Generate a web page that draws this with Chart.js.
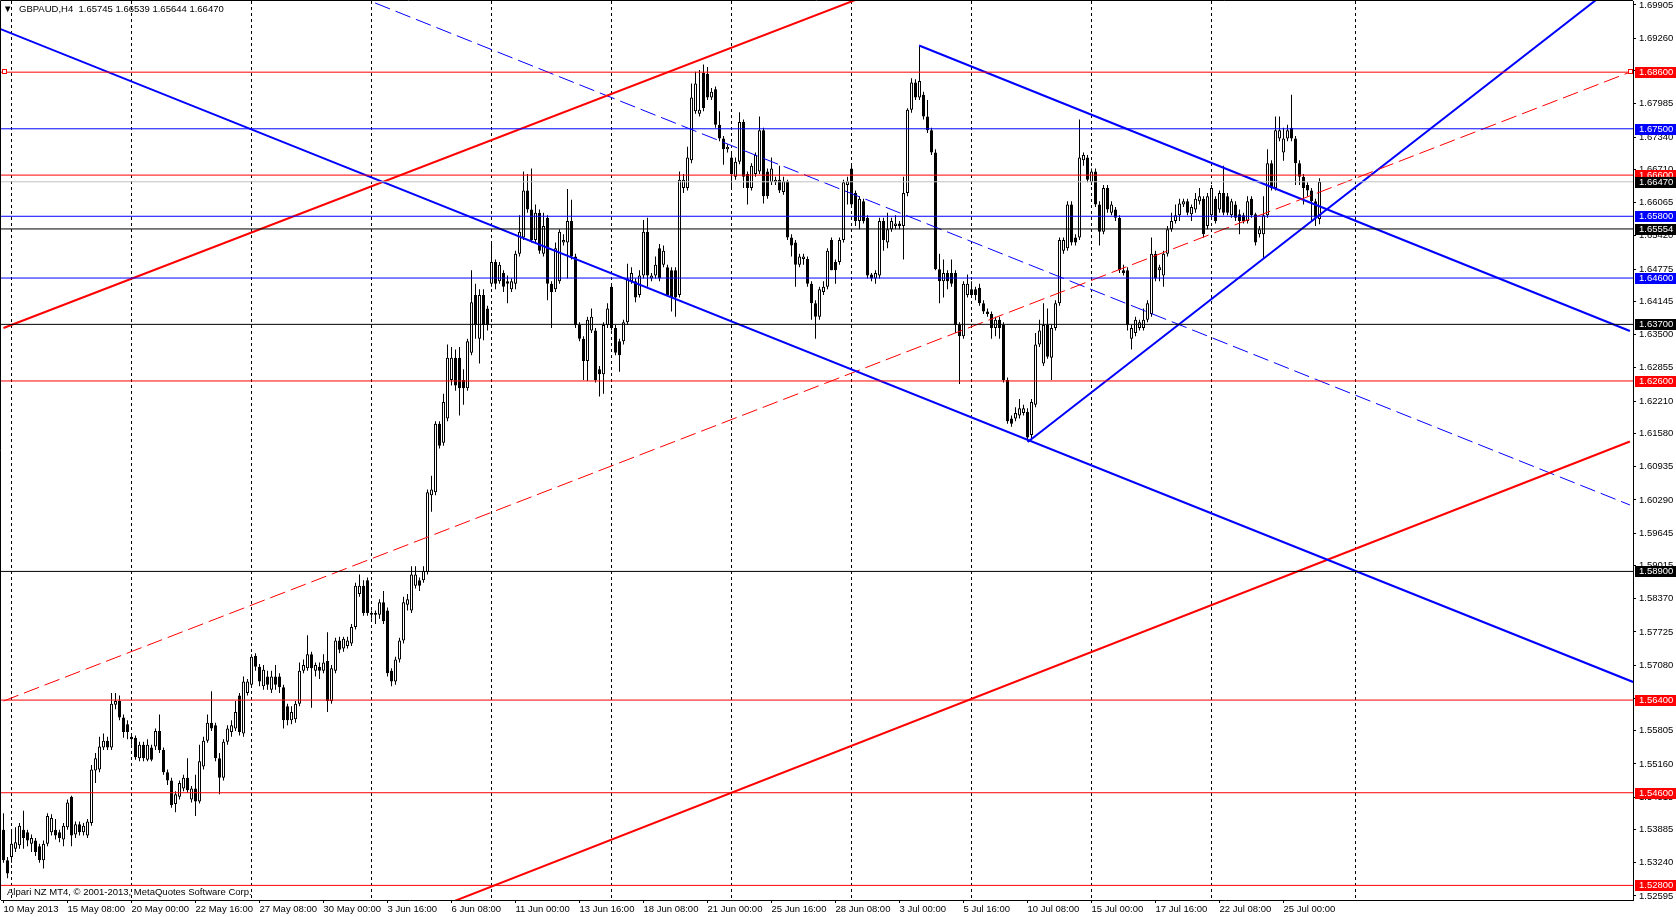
<!DOCTYPE html>
<html>
<head>
<meta charset="utf-8">
<script src="https://cdn.jsdelivr.net/npm/chart.js@4.4.1/dist/chart.umd.min.js"></script>
<style>
html,body{margin:0;padding:0;background:#fff;overflow:hidden}
#caja{position:relative;width:1676px;height:917px}
</style>
</head>
<body>
<div id="caja"><canvas id="grafica"></canvas></div>
<script>
var simbolo = "GBPAUD,H4";
var copyright = "Alpari NZ MT4, \u00a9 2001-2013, MetaQuotes Software Corp.";

// H4 bars, 10 May 2013 16:00 .. 26 Jul 2013 12:00
var opens = [
1.5388,1.5329,1.5335,1.5351,1.5358,1.5388,1.5383,1.5361,1.5367,1.5356,
1.5329,1.5361,1.5383,1.5388,1.5383,1.5369,1.5393,1.5452,1.5379,1.5399,
1.5383,1.5377,1.5401,1.5503,1.5505,1.5548,1.5561,1.5548,1.5631,1.5638,
1.5606,1.5593,1.5569,1.5567,1.5527,1.5553,1.5524,1.5548,1.5550,1.5580,
1.5543,1.5500,1.5484,1.5438,1.5452,1.5468,1.5489,1.5447,1.5468,1.5443,
1.5511,1.5561,1.5596,1.5591,1.5527,1.5489,1.5559,1.5578,1.5585,1.5649,
1.5575,1.5654,1.5670,1.5726,1.5705,1.5667,1.5686,1.5660,1.5686,1.5686,
1.5665,1.5628,1.5601,1.5603,1.5633,1.5697,1.5702,1.5729,1.5697,1.5705,
1.5697,1.5716,1.5638,1.5697,1.5756,1.5740,1.5745,1.5750,1.5782,1.5846,
1.5862,1.5873,1.5806,1.5809,1.5806,1.5830,1.5814,1.5697,1.5676,1.5719,
1.5756,1.5825,1.5814,1.5862,1.5873,1.5873,1.5889,1.6038,1.6044,1.6177,
1.6140,1.6187,1.6262,1.6305,1.6305,1.6262,1.6246,1.6315,1.6427,1.6342,
1.6427,1.6401,1.6449,1.6491,1.6454,1.6470,1.6454,1.6438,1.6449,1.6507,
1.6539,1.6630,1.6593,1.6534,1.6587,1.6507,1.6577,1.6449,1.6438,1.6454,
1.6529,1.6529,1.6571,1.6502,1.6369,1.6342,1.6299,1.6358,1.6358,1.6283,
1.6273,1.6369,1.6443,1.6363,1.6337,1.6337,1.6374,1.6454,1.6454,1.6427,
1.6465,1.6550,1.6459,1.6465,1.6518,1.6486,1.6481,1.6475,1.6475,1.6427,
1.6635,1.6635,1.6689,1.6784,1.6779,1.6859,1.6857,1.6811,1.6827,1.6758,
1.6731,1.6710,1.6694,1.6657,1.6686,1.6763,1.6662,1.6635,1.6662,1.6667,
1.6747,1.6667,1.6646,1.6646,1.6651,1.6627,1.6648,1.6539,1.6529,1.6486,
1.6497,1.6497,1.6449,1.6411,1.6385,1.6433,1.6443,1.6534,1.6491,1.6491,
1.6534,1.6641,1.6673,1.6625,1.6571,1.6609,1.6577,1.6467,1.6459,1.6465,
1.6571,1.6529,1.6555,1.6561,1.6566,1.6561,1.6625,1.6787,1.6840,1.6811,
1.6816,1.6774,1.6747,1.6704,1.6477,1.6454,1.6470,1.6470,1.6470,1.6369,
1.6347,1.6427,1.6438,1.6438,1.6441,1.6411,1.6395,1.6390,1.6363,1.6379,
1.6369,1.6262,1.6187,1.6187,1.6193,1.6198,1.6200,1.6155,1.6214,1.6331,
1.6294,1.6369,1.6305,1.6363,1.6411,1.6513,1.6518,1.6603,1.6539,1.6539,
1.6689,1.6694,1.6646,1.6667,1.6603,1.6550,1.6635,1.6587,1.6593,1.6577,
1.6475,1.6475,1.6342,1.6353,1.6363,1.6363,1.6379,1.6390,1.6507,1.6475,
1.6465,1.6507,1.6555,1.6571,1.6582,1.6603,1.6609,1.6584,1.6593,1.6609,
1.6614,1.6561,1.6582,1.6614,1.6593,1.6625,1.6619,1.6582,1.6603,1.6584,
1.6582,1.6571,1.6614,1.6584,1.6545,1.6545,1.6582,1.6683,1.6635,1.6731,
1.6704,1.6731,1.6752,1.6731,1.6683,1.6657,1.6641,1.6630,1.6609,1.65745
];
var highs = [
1.5420,1.5335,1.5388,1.5393,1.5401,1.5425,1.5388,1.5379,1.5372,1.5361,
1.5367,1.5420,1.5418,1.5409,1.5388,1.5401,1.5447,1.5454,1.5404,1.5404,
1.5401,1.5409,1.5514,1.5537,1.5569,1.5575,1.5569,1.5654,1.5654,1.5649,
1.5612,1.5601,1.5575,1.5571,1.5559,1.5559,1.5564,1.5553,1.5585,1.5612,
1.5548,1.5505,1.5489,1.5463,1.5484,1.5495,1.5527,1.5473,1.5495,1.5553,
1.5569,1.5612,1.5657,1.5596,1.5537,1.5564,1.5591,1.5601,1.5638,1.5654,
1.5686,1.5681,1.5729,1.5731,1.5710,1.5708,1.5697,1.5697,1.5708,1.5692,
1.5670,1.5633,1.5628,1.5638,1.5713,1.5719,1.5766,1.5734,1.5713,1.5713,
1.5729,1.5772,1.5708,1.5761,1.5763,1.5763,1.5763,1.5788,1.5868,1.5884,
1.5873,1.5878,1.5814,1.5814,1.5836,1.5852,1.5820,1.5702,1.5724,1.5761,
1.5841,1.5846,1.5900,1.5900,1.5878,1.5900,1.6049,1.6076,1.6182,1.6182,
1.6235,1.6331,1.6326,1.6321,1.6326,1.6283,1.6342,1.6475,1.6449,1.6438,
1.6438,1.6406,1.6529,1.6496,1.6491,1.6475,1.6465,1.6459,1.6513,1.6582,
1.6667,1.6662,1.6673,1.6603,1.6593,1.6587,1.6582,1.6454,1.6529,1.6555,
1.6545,1.6633,1.6612,1.6507,1.6374,1.6347,1.6385,1.6401,1.6363,1.6289,
1.6374,1.6411,1.6449,1.6369,1.6342,1.6379,1.6488,1.6481,1.6459,1.6475,
1.6573,1.6577,1.6470,1.6502,1.6526,1.6523,1.6486,1.6481,1.6481,1.6667,
1.6662,1.6715,1.6838,1.6861,1.6864,1.6875,1.6870,1.6829,1.6832,1.6784,
1.6736,1.6720,1.6704,1.6694,1.6782,1.6768,1.6667,1.6683,1.6704,1.6774,
1.6752,1.6673,1.6694,1.6657,1.6678,1.6657,1.6651,1.6545,1.6534,1.6507,
1.6507,1.6502,1.6454,1.6417,1.6443,1.6454,1.6518,1.6539,1.6496,1.6539,
1.6651,1.6657,1.6680,1.6630,1.6619,1.6614,1.6582,1.6470,1.6475,1.6577,
1.6577,1.6587,1.6577,1.6582,1.6571,1.6657,1.6790,1.6848,1.6846,1.6912,
1.6822,1.6806,1.6752,1.6710,1.6507,1.6496,1.6475,1.6496,1.6475,1.6374,
1.6454,1.6467,1.6454,1.6443,1.6449,1.6417,1.6401,1.6395,1.6385,1.6385,
1.6374,1.6267,1.6193,1.6209,1.6225,1.6214,1.6207,1.6225,1.6353,1.6379,
1.6411,1.6401,1.6369,1.6417,1.6539,1.6539,1.6609,1.6609,1.6545,1.6768,
1.6704,1.6699,1.6673,1.6673,1.6609,1.6641,1.6641,1.6609,1.6598,1.6582,
1.6486,1.6481,1.6369,1.6385,1.6379,1.6401,1.6417,1.6539,1.6513,1.6486,
1.6513,1.6561,1.6587,1.6603,1.6614,1.6614,1.6614,1.6603,1.6625,1.6635,
1.6619,1.6625,1.6641,1.6619,1.6630,1.6678,1.6625,1.6614,1.6609,1.6593,
1.6587,1.6619,1.6619,1.6587,1.6561,1.6619,1.6710,1.6689,1.6774,1.6774,
1.6752,1.6758,1.6816,1.6736,1.6689,1.6662,1.6646,1.6635,1.6614,1.66539
];
var lows = [
1.5324,1.5294,1.5324,1.5345,1.5351,1.5351,1.5356,1.5345,1.5337,1.5324,
1.5313,1.5356,1.5377,1.5369,1.5364,1.5356,1.5388,1.5356,1.5372,1.5377,
1.5377,1.5372,1.5396,1.5479,1.5500,1.5543,1.5543,1.5543,1.5622,1.5601,
1.5567,1.5564,1.5553,1.5524,1.5521,1.5521,1.5521,1.5521,1.5543,1.5537,
1.5495,1.5475,1.5431,1.5422,1.5447,1.5463,1.5460,1.5441,1.5415,1.5439,
1.5505,1.5557,1.5580,1.5521,1.5457,1.5484,1.5553,1.5569,1.5580,1.5571,
1.5569,1.5649,1.5665,1.5697,1.5667,1.5660,1.5660,1.5654,1.5660,1.5654,
1.5585,1.5591,1.5593,1.5596,1.5628,1.5692,1.5697,1.5625,1.5686,1.5681,
1.5692,1.5617,1.5633,1.5692,1.5731,1.5734,1.5740,1.5745,1.5777,1.5841,
1.5804,1.5804,1.5798,1.5788,1.5798,1.5788,1.5686,1.5667,1.5670,1.5713,
1.5750,1.5814,1.5809,1.5857,1.5852,1.5868,1.5884,1.6006,1.6038,1.6129,
1.6134,1.6182,1.6251,1.6241,1.6193,1.6214,1.6241,1.6310,1.6342,1.6294,
1.6339,1.6358,1.6443,1.6438,1.6449,1.6433,1.6411,1.6433,1.6438,1.6502,
1.6534,1.6587,1.6529,1.6529,1.6507,1.6502,1.6417,1.6363,1.6433,1.6449,
1.6523,1.6459,1.6496,1.6363,1.6337,1.6262,1.6260,1.6353,1.6257,1.6230,
1.6235,1.6363,1.6358,1.6310,1.6278,1.6331,1.6369,1.6449,1.6413,1.6422,
1.6459,1.6443,1.6454,1.6459,1.6454,1.6481,1.6427,1.6395,1.6385,1.6422,
1.6625,1.6630,1.6683,1.6779,1.6774,1.6784,1.6806,1.6806,1.6752,1.6726,
1.6680,1.6704,1.6635,1.6651,1.6681,1.6635,1.6603,1.6630,1.6657,1.6662,
1.6605,1.6614,1.6641,1.6641,1.6625,1.6622,1.6534,1.6502,1.6443,1.6481,
1.6486,1.6443,1.6379,1.6342,1.6379,1.6427,1.6438,1.6475,1.6449,1.6486,
1.6529,1.6603,1.6598,1.6561,1.6555,1.6566,1.6459,1.6454,1.6449,1.6459,
1.6513,1.6518,1.6550,1.6555,1.6555,1.6496,1.6619,1.6781,1.6806,1.6806,
1.6768,1.6742,1.6699,1.6475,1.6411,1.6422,1.6438,1.6443,1.6353,1.6254,
1.6342,1.6422,1.6422,1.6417,1.6406,1.6390,1.6385,1.6342,1.6347,1.6342,
1.6257,1.6177,1.6171,1.6182,1.6187,1.6193,1.6143,1.6145,1.6209,1.6326,
1.6289,1.6303,1.6262,1.6358,1.6406,1.6507,1.6513,1.6523,1.6523,1.6534,
1.6678,1.6646,1.6641,1.6598,1.6523,1.6545,1.6587,1.6582,1.6571,1.6470,
1.6465,1.6358,1.6321,1.6347,1.6358,1.6358,1.6374,1.6385,1.6454,1.6454,
1.6443,1.6502,1.6550,1.6566,1.6571,1.6598,1.6582,1.6571,1.6587,1.6603,
1.6539,1.6555,1.6577,1.6566,1.6587,1.6582,1.6582,1.6577,1.6571,1.6545,
1.6566,1.6566,1.6577,1.6523,1.6539,1.6499,1.6577,1.6630,1.6630,1.6726,
1.6688,1.6726,1.6726,1.6641,1.6641,1.6603,1.6619,1.6571,1.6561,1.65644
];
var closes = [
1.5329,1.5303,1.5361,1.5364,1.5396,1.5372,1.5367,1.5372,1.5345,1.5329,
1.5361,1.5415,1.5411,1.5377,1.5372,1.5396,1.5441,1.5377,1.5399,1.5383,
1.5396,1.5404,1.5505,1.5527,1.5550,1.5561,1.5548,1.5633,1.5638,1.5606,
1.5578,1.5578,1.5564,1.5529,1.5553,1.5527,1.5553,1.5524,1.5580,1.5543,
1.5500,1.5484,1.5436,1.5457,1.5479,1.5489,1.5465,1.5468,1.5443,1.5521,
1.5561,1.5596,1.5585,1.5527,1.5489,1.5559,1.5585,1.5591,1.5617,1.5578,
1.5676,1.5676,1.5724,1.5705,1.5676,1.5699,1.5670,1.5686,1.5670,1.5665,
1.5601,1.5601,1.5617,1.5633,1.5697,1.5708,1.5729,1.5702,1.5708,1.5697,
1.5713,1.5638,1.5702,1.5756,1.5738,1.5759,1.5756,1.5782,1.5862,1.5862,
1.5809,1.5809,1.5809,1.5806,1.5830,1.5793,1.5692,1.5676,1.5719,1.5756,
1.5830,1.5836,1.5884,1.5884,1.5862,1.5891,1.6044,1.6049,1.6177,1.6134,
1.6219,1.6305,1.6305,1.6251,1.6246,1.6246,1.6337,1.6413,1.6369,1.6427,
1.6369,1.6369,1.6491,1.6449,1.6486,1.6443,1.6449,1.6454,1.6507,1.6550,
1.6630,1.6593,1.6534,1.6587,1.6513,1.6561,1.6449,1.6433,1.6518,1.6550,
1.6534,1.6571,1.6502,1.6369,1.6342,1.6299,1.6379,1.6385,1.6262,1.6273,
1.6369,1.6401,1.6363,1.6315,1.6310,1.6374,1.6459,1.6470,1.6422,1.6465,
1.6550,1.6465,1.6465,1.6486,1.6459,1.6513,1.6427,1.6422,1.6422,1.6651,
1.6651,1.6694,1.6811,1.6838,1.6787,1.6790,1.6811,1.6822,1.6758,1.6731,
1.6710,1.6715,1.6662,1.6686,1.6763,1.6657,1.6635,1.6678,1.6699,1.6747,
1.6619,1.6619,1.6673,1.6651,1.6630,1.6648,1.6539,1.6523,1.6486,1.6502,
1.6502,1.6449,1.6411,1.6385,1.6438,1.6443,1.6513,1.6475,1.6475,1.6534,
1.6646,1.6648,1.6603,1.6571,1.6614,1.6571,1.6465,1.6459,1.6470,1.6571,
1.6534,1.6555,1.6571,1.6566,1.6561,1.6625,1.6787,1.6840,1.6811,1.6843,
1.6774,1.6747,1.6704,1.6477,1.6454,1.6470,1.6454,1.6449,1.6369,1.6347,
1.6449,1.6449,1.6427,1.6427,1.6411,1.6395,1.6390,1.6363,1.6379,1.6363,
1.6262,1.6182,1.6177,1.6198,1.6207,1.6207,1.6150,1.6219,1.6331,1.6358,
1.6369,1.6307,1.6363,1.6411,1.6534,1.6534,1.6603,1.6529,1.6529,1.6694,
1.6699,1.6651,1.6667,1.6603,1.6550,1.6635,1.6593,1.6603,1.6577,1.6475,
1.6470,1.6369,1.6363,1.6379,1.6374,1.6379,1.6411,1.6507,1.6459,1.6481,
1.6507,1.6555,1.6571,1.6582,1.6605,1.6609,1.6587,1.6598,1.6614,1.6619,
1.6545,1.6619,1.6635,1.6571,1.6625,1.6587,1.6587,1.6609,1.6577,1.6571,
1.6571,1.6609,1.6582,1.6529,1.6555,1.6582,1.6683,1.6635,1.6747,1.6747,
1.6731,1.6747,1.6731,1.6683,1.6657,1.6635,1.6630,1.6609,1.6577,1.66470
];

var tickBars = [0,16,32,48,64,80,96,112,128,144,160,176,192,208,224,240,256,272,288,304,320];
var tickLabels = ["10 May 2013","15 May 08:00","20 May 00:00","22 May 16:00","27 May 08:00","30 May 00:00",
  "3 Jun 16:00","6 Jun 08:00","11 Jun 00:00","13 Jun 16:00","18 Jun 08:00","21 Jun 00:00","25 Jun 16:00",
  "28 Jun 08:00","3 Jul 00:00","5 Jul 16:00","10 Jul 08:00","15 Jul 00:00","17 Jul 16:00","22 Jul 08:00","25 Jul 00:00"];
var weekBars = [2,32,62,92,122,152,182,212,242,272,302,338];

var yTicks = [1.69905,1.69260,1.68625,1.67985,1.67340,1.66710,1.66065,1.65420,1.64775,1.64145,1.63500,
  1.62855,1.62210,1.61580,1.60935,1.60290,1.59645,1.59015,1.58370,1.57725,1.57080,1.56435,1.55805,
  1.55160,1.54515,1.53885,1.53240,1.52595];

var niveles = [1.68600,1.67500,1.66600,1.66470,1.65800,1.65554,1.64600,1.63700,1.62600,1.58900,1.56400,1.54600,1.52800];
var colorNivel = ["#ff0000","#0000ff","#ff0000","#c0c0c0","#0000ff","#000000","#0000ff","#000000","#ff0000","#000000","#ff0000","#ff0000","#ff0000"];
var colorEtiqueta = ["#ff0000","#0000ff","#ff0000","#000000","#0000ff","#000000","#0000ff","#000000","#ff0000","#000000","#ff0000","#ff0000","#ff0000"];

// trend lines: [bar, price] -> [bar, price]
var lineas = [
  [[-0.875,1.69441],[407.4,1.56752]],
  [[0,1.63629],[260,1.71410]],
  [[100,1.52109],[406.6,1.61424]],
  [[0,1.56382],[406.6,1.68600]],
  [[92.9,1.69944],[406.6,1.60191]],
  [[228.9,1.69118],[406.6,1.63571]],
  [[256.05,1.61415],[410,1.70720]]
];
var colorLinea = ["#0000ff","#ff0000","#ff0000","#ff0000","#0000ff","#0000ff","#0000ff"];
var anchoLinea = [2,2,2,1,1,2,2];
var trazoLinea = [[],[],[],[16,6],[16,6],[],[]];

var xMin = -0.625, xMax = 407.375;
var yMin = 1.52516, yMax = 1.699827;

var fuente = "'Liberation Sans', Arial, sans-serif";
Chart.defaults.font.family = fuente;
Chart.defaults.font.size = 9.5;
Chart.defaults.color = "#000";

var velas = opens.map(function(o, i){ return {x: i, y: [o, closes[i]]}; });
var mechas = opens.map(function(o, i){ return {x: i, y: [lows[i], highs[i]]}; });
var colorVela = opens.map(function(o, i){ return closes[i] >= o ? "#ffffff" : "#000000"; });

var datasets = [];
niveles.forEach(function(p, k){
  datasets.push({
    type: "line", data: [{x: xMin, y: p}, {x: xMax, y: p}],
    borderColor: colorNivel[k], borderWidth: 1, pointRadius: 0, order: 0, clip: 0
  });
});
lineas.forEach(function(l, k){
  datasets.push({
    type: "line", data: [{x: l[0][0], y: l[0][1]}, {x: l[1][0], y: l[1][1]}],
    borderColor: colorLinea[k], borderWidth: anchoLinea[k], borderDash: trazoLinea[k],
    pointRadius: 0, order: 0, clip: 0
  });
});
datasets.push({
  type: "bar", data: velas, backgroundColor: colorVela, borderColor: "#000", borderWidth: 1,
  borderSkipped: false, barThickness: 3, minBarLength: 1, grouped: false, inflateAmount: 0, order: 1
});
datasets.push({
  type: "bar", data: mechas, backgroundColor: "#000", borderWidth: 0,
  barThickness: 1, grouped: false, inflateAmount: 0, order: 2
});

var extras = {
  id: "extras",
  beforeDraw: function(chart){
    var ctx = chart.ctx;
    ctx.save();
    ctx.fillStyle = "#fff";
    ctx.fillRect(0, 0, chart.width, chart.height);
    ctx.restore();
  },
  beforeDatasetsDraw: function(chart){
    var ctx = chart.ctx, a = chart.chartArea, sx = chart.scales.x;
    ctx.save();
    ctx.strokeStyle = "#000";
    ctx.lineWidth = 1;
    ctx.setLineDash([3, 3]);
    weekBars.forEach(function(b){
      var x = Math.round(sx.getPixelForValue(b)) - 0.5;
      ctx.beginPath();
      ctx.moveTo(x, a.top);
      ctx.lineTo(x, a.bottom);
      ctx.stroke();
    });
    ctx.restore();
  },
  afterDatasetsDraw: function(chart){
    var ctx = chart.ctx, a = chart.chartArea, sy = chart.scales.y, sx = chart.scales.x;
    ctx.save();
    var y = Math.round(sy.getPixelForValue(niveles[0])) - 0.5;
    ctx.fillStyle = "#fff";
    ctx.strokeStyle = "#ff0000";
    ctx.lineWidth = 1;
    [sx.getPixelForValue(0.3), sx.getPixelForValue(406.9)].forEach(function(x){
      x = Math.round(x) - 0.5;
      ctx.fillRect(x - 2, y - 2, 4, 4);
      ctx.strokeRect(x - 2, y - 2, 4, 4);
    });
    ctx.fillStyle = "#000";
    ctx.font = "9.5px " + fuente;
    ctx.textBaseline = "middle";
    var n = opens.length - 1;
    ctx.fillText("\u25bc", 3, 9);
    ctx.fillText(simbolo + "  " + opens[n].toFixed(5) + " " + highs[n].toFixed(5) + " " +
      lows[n].toFixed(5) + " " + closes[n].toFixed(5), 19, 9);
    ctx.fillText(copyright, 7, a.bottom - 8);
    ctx.strokeStyle = "#000";
    ctx.beginPath();
    ctx.moveTo(a.left - 0.5, a.bottom);
    ctx.lineTo(a.left - 0.5, a.top - 0.5);
    ctx.lineTo(a.right, a.top - 0.5);
    ctx.stroke();
    ctx.restore();
  },
  afterDraw: function(chart){
    var ctx = chart.ctx, a = chart.chartArea, sy = chart.scales.y;
    ctx.save();
    ctx.font = "9.5px " + fuente;
    ctx.textBaseline = "middle";
    niveles.forEach(function(p, k){
      var y = Math.round(sy.getPixelForValue(p));
      ctx.fillStyle = colorEtiqueta[k];
      ctx.fillRect(a.right + 2, y - 5, chart.width - a.right - 2, 11);
      ctx.fillStyle = "#fff";
      ctx.fillText(p.toFixed(5), a.right + 6, y + 0.5);
    });
    ctx.restore();
  }
};

var chart = new Chart(document.getElementById("grafica"), {
  type: "bar",
  data: { datasets: datasets },
  plugins: [extras],
  options: {
    responsive: true,
    maintainAspectRatio: false,
    animation: false,
    events: [],
    layout: { padding: { left: 1, top: 1, right: 0, bottom: 0 } },
    plugins: { legend: { display: false }, tooltip: { enabled: false } },
    scales: {
      x: {
        type: "linear", min: xMin, max: xMax, offset: false,
        grid: { drawOnChartArea: false, drawTicks: true, tickLength: 3, color: "#000", offset: false },
        border: { display: true, color: "#000" },
        ticks: {
          autoSkip: false, maxRotation: 0, align: "start", padding: 1, color: "#000",
          callback: function(v){ var k = tickBars.indexOf(v); return k < 0 ? "" : tickLabels[k]; }
        },
        afterBuildTicks: function(s){ s.ticks = tickBars.map(function(v){ return {value: v}; }); },
        afterFit: function(s){ s.height = 17; s.paddingLeft = 0; s.paddingRight = 0; }
      },
      y: {
        type: "linear", position: "right", min: yMin, max: yMax, beginAtZero: false,
        grid: { drawOnChartArea: false, drawTicks: true, tickLength: 3, color: "#000" },
        border: { display: true, color: "#000" },
        ticks: {
          padding: 3, color: "#000", autoSkip: false,
          callback: function(v){ return v.toFixed(5); }
        },
        afterBuildTicks: function(s){ s.ticks = yTicks.map(function(v){ return {value: v}; }); },
        afterFit: function(s){ s.width = 43; s.paddingTop = 0; s.paddingBottom = 0; }
      }
    }
  }
});
</script>
</body>
</html>
